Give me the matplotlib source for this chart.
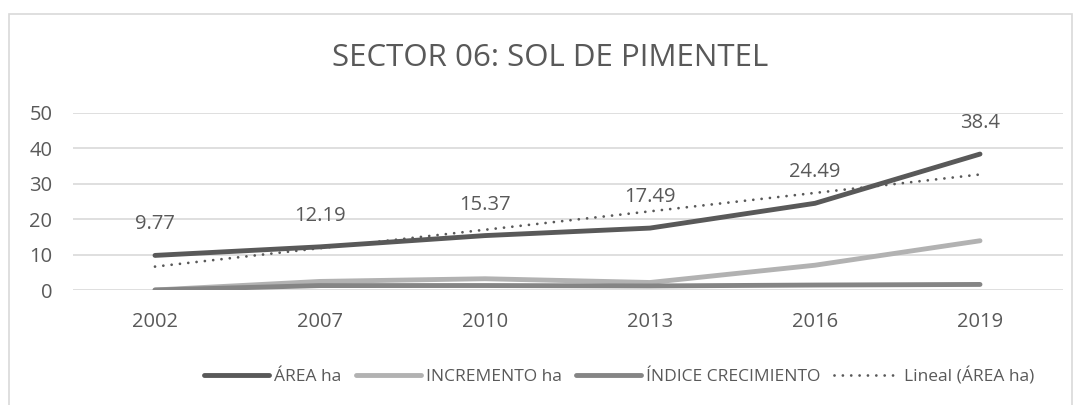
import matplotlib
matplotlib.use("Agg")
import matplotlib.pyplot as plt
from matplotlib.patches import Rectangle
import numpy as np

plt.rcParams['font.family'] = ['Open Sans', 'DejaVu Sans']

# data
years = ["2002", "2007", "2010", "2013", "2016", "2019"]
area_ha = [9.77, 12.19, 15.37, 17.49, 24.49, 38.4]
incremento_ha = [0, 2.42, 3.18, 2.12, 7.0, 13.91]
indice_crec = [0, 1.25, 1.26, 1.14, 1.40, 1.57]

text_color = '#595959'

fig = plt.figure(figsize=(10.81, 4.05), dpi=100)
# chart border (bottom edge lies outside the image, as in the original)
fig.patches.append(Rectangle((9 / 1081, -10 / 405), 1063 / 1081, 401 / 405,
                             transform=fig.transFigure, fill=False,
                             edgecolor='#d9d9d9', linewidth=1.2))

ax = fig.add_axes([72.5 / 1081, 1 - 290 / 405, 990 / 1081, 177 / 405])
x = np.arange(len(years))

ax.plot(x, area_ha, color='#595959', linewidth=3.5, solid_capstyle='round',
        label='ÁREA ha', zorder=4)
ax.plot(x, incremento_ha, color='#b2b2b2', linewidth=3.5, solid_capstyle='round',
        label='INCREMENTO ha', zorder=3)
ax.plot(x, indice_crec, color='#858585', linewidth=3.5, solid_capstyle='round',
        label='ÍNDICE CRECIMIENTO', zorder=3)

# linear trend of area
coef = np.polyfit(x + 1, area_ha, 1)
trend = np.polyval(coef, x + 1)
ax.plot(x, trend, color='#595959', linewidth=2.0, linestyle=(0, (0.01, 3)),
        dash_capstyle='round', label='Lineal (ÁREA ha)', zorder=5)

for xi, v in zip(x, area_ha):
    ax.annotate(f"{v:g}", (xi, v), xytext=(0, 22.3), textcoords='offset points',
                ha='center', va='center', fontsize=14.5, color=text_color)

ax.set_xlim(-0.5, len(years) - 0.5)
ax.set_ylim(0, 50)
ax.set_yticks(range(0, 51, 10))
ax.set_xticks(x)
ax.set_xticklabels(years)
ax.tick_params(axis='both', length=0, labelsize=14.5, labelcolor=text_color)
ax.tick_params(axis='x', pad=16)
ax.tick_params(axis='y', pad=14.5)
ax.grid(axis='y', color='#d9d9d9', linewidth=1.2)
ax.set_axisbelow(True)
for s in ax.spines.values():
    s.set_visible(False)

fig.text(550 / 1081, 1 - 58 / 405, "SECTOR 06: SOL DE PIMENTEL", ha='center', va='center',
         fontsize=22.5, color=text_color)

fig.legend(loc='center', bbox_to_anchor=(0.573, 1 - 376 / 405), ncol=4, frameon=False,
           fontsize=12.5, labelcolor=text_color, handlelength=3.75, handletextpad=0.3,
           columnspacing=0.8)

fig.savefig("out.png", dpi=100)
